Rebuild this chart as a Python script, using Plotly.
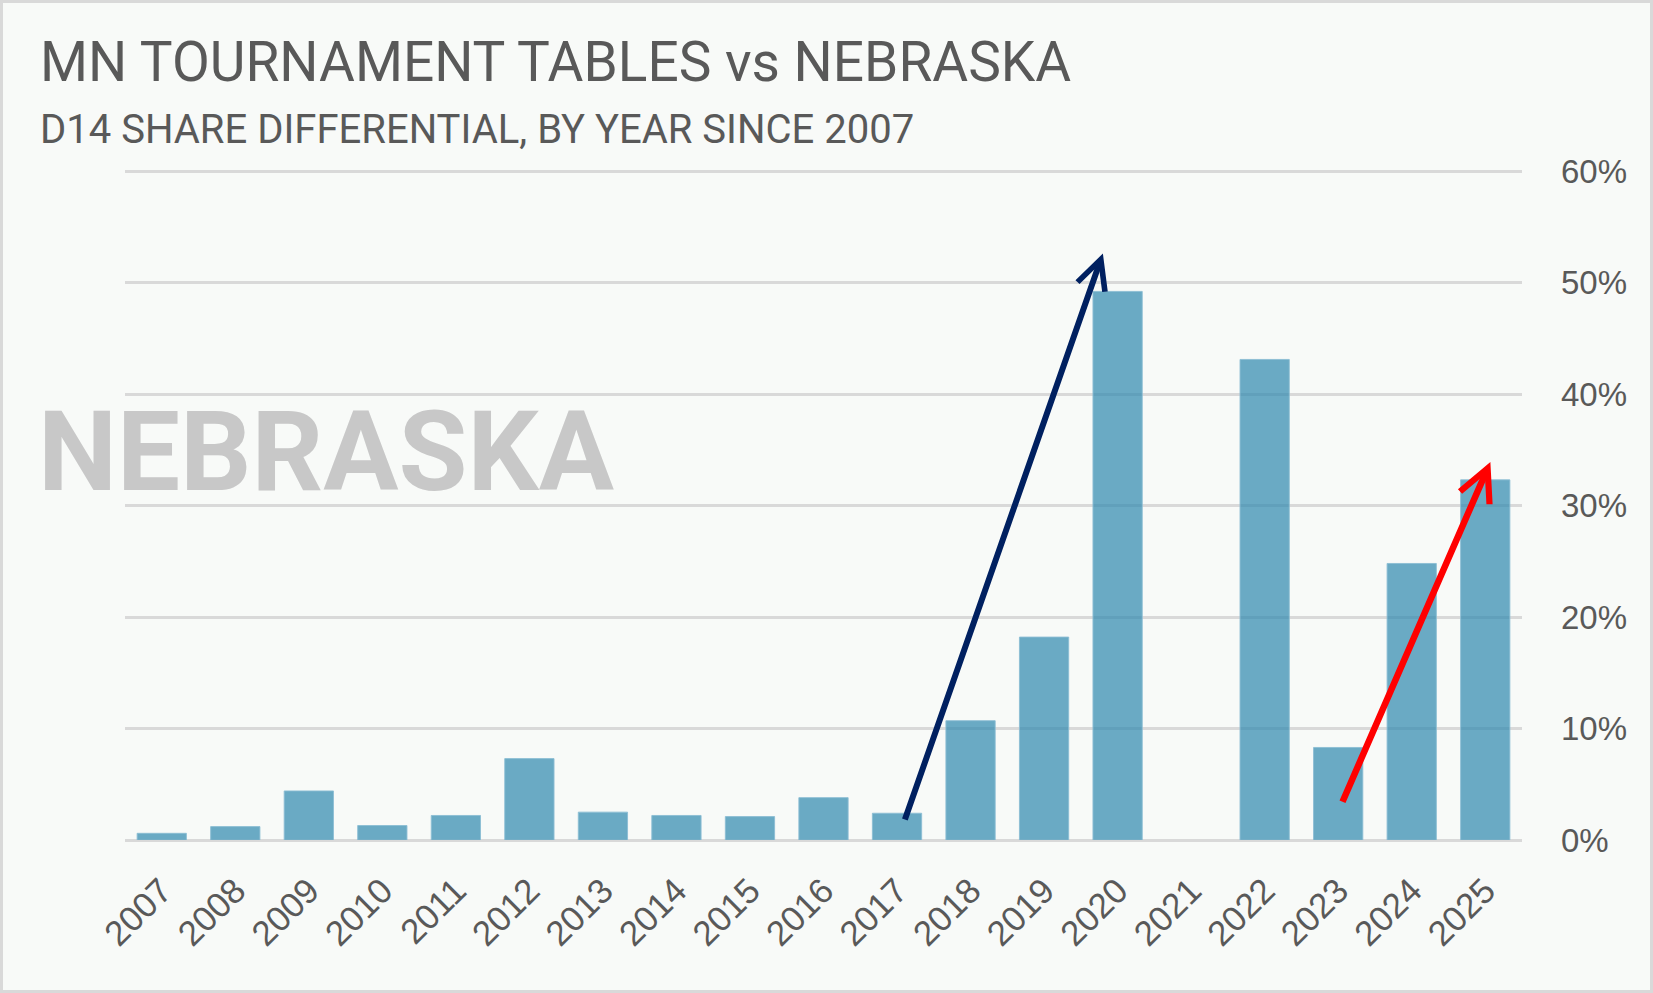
import plotly.graph_objects as go

# Data
years = list(range(2007, 2026))
year_labels = [str(y) for y in years]
share_diff = [0.006, 0.012, 0.044, 0.013, 0.022, 0.073, 0.025, 0.022, 0.021, 0.038,
              0.024, 0.107, 0.182, 0.492, None, 0.431, 0.083, 0.248, 0.323]
y_ticks = [0, 0.1, 0.2, 0.3, 0.4, 0.5, 0.6]
y_tick_labels = ['0%', '10%', '20%', '30%', '40%', '50%', '60%']

# Trend arrows (start year, start value, end year, end value)
navy_arrow = [2017.1, 0.017, 2019.8, 0.526]
red_arrow = [2023.05, 0.033, 2025.07, 0.339]

W, H = 1653, 993
M = dict(l=125, r=131, t=169, b=153)
PW = W - M['l'] - M['r']
PH = H - M['t'] - M['b']
Y_TOP = 0.6 + 2 / (669 / 0.6)   # a hair above 60% so the top gridline is drawn


def px(x):
    return (x - M['l']) / PW


def py(y):
    return (H - M['b'] - y) / PH


colors = {
    'bar': 'rgba(45,136,174,0.7)',
    'bar_line': 'rgba(140,190,212,0.9)',
    'grid': '#d9d9d9',
    'text': '#595959',
    'watermark': '#c8c8c8',
    'background': '#f8faf8',
    'navy': '#002060',
    'red': '#ff0000',
}
title_font = 'Roboto, Liberation Sans, sans-serif'
tick_font = 'Liberation Sans, Arial, sans-serif'

fig = go.Figure()
fig.add_trace(go.Bar(
    x=years,
    y=share_diff,
    width=0.67,
    marker=dict(color=colors['bar'], line=dict(color=colors['bar_line'], width=1)),
    hoverinfo='x+y',
))

annotations = [
    dict(text='MN TOURNAMENT TABLES vs NEBRASKA', x=px(38), y=py(62),
         font=dict(size=55, color=colors['text'], family=title_font)),
    dict(text='D14 SHARE DIFFERENTIAL, BY YEAR SINCE 2007', x=px(38), y=py(130),
         font=dict(size=40, color=colors['text'], family=title_font)),
    dict(text='<b>NEBRASKA</b>', x=px(36), y=py(451),
         font=dict(size=112, color=colors['watermark'], family=title_font)),
]
for a in annotations:
    a.update(xref='paper', yref='paper', xanchor='left', yanchor='middle', showarrow=False)

for arr, col, w, size in [(navy_arrow, colors['navy'], 6, 0.95), (red_arrow, colors['red'], 6.5, 0.97)]:
    annotations.append(dict(
        x=arr[2], y=arr[3], ax=arr[0], ay=arr[1],
        xref='x', yref='y', axref='x', ayref='y',
        text='', showarrow=True, arrowhead=5, arrowsize=size,
        arrowwidth=w, arrowcolor=col, standoff=0, startstandoff=0,
    ))

fig.update_layout(
    width=W, height=H,
    margin=M,
    paper_bgcolor=colors['background'],
    plot_bgcolor=colors['background'],
    showlegend=False,
    xaxis=dict(
        range=[2006.5, 2025.5],
        tickmode='array', tickvals=years, ticktext=year_labels,
        tickangle=-45,
        tickfont=dict(size=35, color=colors['text'], family=tick_font),
        showgrid=False, zeroline=False, ticks='',
        ticklabelstandoff=22,
    ),
    yaxis=dict(
        side='right',
        range=[0, Y_TOP],
        tickmode='array', tickvals=y_ticks, ticktext=y_tick_labels,
        tickfont=dict(size=33, color=colors['text'], family=tick_font),
        showgrid=True, gridcolor=colors['grid'], gridwidth=2.5,
        zeroline=True, zerolinecolor=colors['grid'], zerolinewidth=2.5,
        ticks='', ticklabelstandoff=38,
    ),
    annotations=annotations,
    shapes=[dict(
        type='rect', xref='paper', yref='paper',
        x0=px(1.5), x1=px(W - 1.5), y0=py(H - 1.5), y1=py(1.5),
        line=dict(color='#d9d9d9', width=3), fillcolor='rgba(0,0,0,0)', layer='above',
    )],
)

# drop the default page margin so the figure sits at the window corner
fig.write_html('out.html', config={'displayModeBar': False},
               post_script="document.body.style.margin='0';")
